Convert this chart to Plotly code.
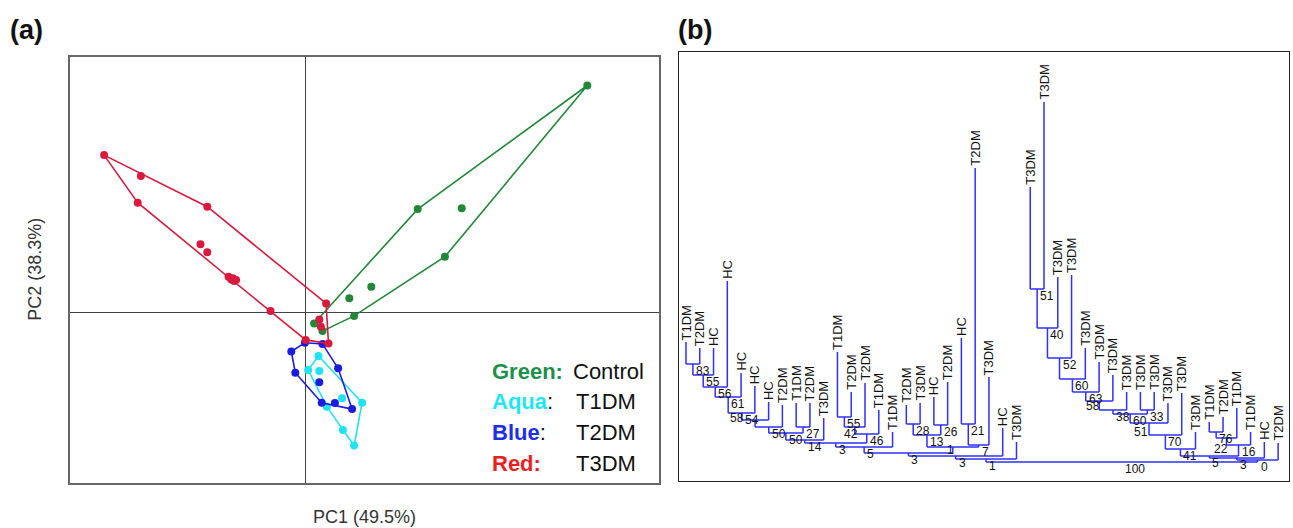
import plotly.graph_objects as go

# ---------------- Panel (a): PCA scores ----------------
GREEN_PC1 = [7.05, 2.81, 3.91, 3.49, 1.65, 1.10, 1.22, 0.22, 0.43]
GREEN_PC2 = [5.67, 2.58, 2.60, 1.39, 0.64, 0.35, -0.09, -0.28, -0.47]

AQUA_PC1 = [0.33, 0.07, 0.35, 0.92, 1.42, 0.54, 0.94, 1.22]
AQUA_PC2 = [-1.09, -1.44, -1.47, -2.15, -2.26, -2.36, -2.94, -3.33]

BLUE_PC1 = [-0.35, -0.01, 0.43, -0.25, 0.82, 0.35, 0.41, 0.74, 1.17]
BLUE_PC2 = [-0.98, -0.76, -0.79, -1.51, -1.40, -1.75, -2.26, -2.27, -2.42]

RED_PC1 = [-5.03, -4.11, -4.19, -2.45, -2.62, -2.45, -1.92, -1.81, -1.73, -1.85,
           -1.78, -0.87, 0.01, 0.58, 0.52, 0.35, 0.39]
RED_PC2 = [3.93, 3.41, 2.74, 2.64, 1.70, 1.50, 0.89, 0.85, 0.81, 0.82,
           0.78, 0.03, -0.69, -0.78, 0.22, -0.18, -0.36]

LEGEND_KEYS = ["Green:", "Aqua", "Blue", "Red:"]
LEGEND_NAMES = ["Control", "T1DM", "T2DM", "T3DM"]
PC1_TITLE = "PC1 (49.5%)"
PC2_TITLE = "PC2 (38.3%)"

# ---------------- Panel (b): dendrogram ----------------
LEAF_LABELS = ["T1DM", "T2DM", "HC", "HC", "HC", "HC", "HC", "T2DM", "T1DM", "T2DM",
               "T3DM", "T1DM", "T2DM", "T2DM", "T1DM", "T1DM", "T2DM", "T3DM", "HC", "T2DM",
               "HC", "T2DM", "T3DM", "HC", "T3DM", "T3DM", "T3DM", "T3DM", "T3DM", "T3DM",
               "T3DM", "T3DM", "T3DM", "T3DM", "T3DM", "T3DM", "T3DM", "T3DM", "T1DM", "T2DM",
               "T1DM", "T1DM", "HC", "T2DM"]
LEAF_HEIGHTS = [139, 133, 133, 200, 108, 95, 79, 76, 78, 78,
                63, 129, 89, 98, 71, 49, 76, 78, 84, 99,
                143, 313, 104, 53, 39, 294, 379, 204, 206, 133,
                119, 106, 89, 89, 89, 78, 88, 49, 59, 64,
                73, 49, 39, 38]

NODE_NAMES = ["a", "b", "c", "d", "e", "f", "g", "h", "i", "j",
              "n55", "n42", "n46", "p3", "q5",
              "n28", "n26", "n13", "n21", "n7", "r1", "u3", "s3", "t1",
              "R51", "R40", "R52", "R60", "R63", "R58", "R38", "R33", "R60b", "R51b", "R70", "R41",
              "R76", "R22", "R16", "R5", "R3", "R0", "root"]
NODE_LEFT = ["L1", "a", "b", "c", "d", "e", "f", "L9", "g", "i",
             "L12", "n55", "n42", "j", "p3",
             "L17", "L19", "n28", "L21", "n21", "n13", "q5", "u3", "s3",
             "L26", "R51", "R40", "R52", "R60", "R63", "R58", "L34", "R38", "R60b", "R51b", "R70",
             "L39", "R76", "R22", "R41", "R5", "R3", "t1"]
NODE_RIGHT = ["L2", "L3", "L4", "L5", "L6", "L7", "L8", "L10", "h", "L11",
              "L13", "L14", "L15", "n46", "L16",
              "L18", "L20", "n26", "L22", "L23", "n7", "r1", "L24", "L25",
              "L27", "L28", "L29", "L30", "L31", "L32", "L33", "L35", "R33", "L36", "L37", "L38",
              "L40", "L41", "L42", "R16", "L43", "L44", "R0"]
NODE_HEIGHT = [117, 106, 94, 84, 68, 61, 54, 54, 48, 41,
               64, 54, 47, 38, 34,
               57, 56, 46, 57, 36, 34, 28, 25, 22,
               192, 153, 123, 102, 89, 80, 71, 71, 67, 58, 46, 32,
               49, 43, 36, 25, 23, 21, 19]
NODE_SUPPORT = ["83", "55", "56", "61", "54", "58", "50", "27", "50", "14",
                "55", "42", "46", "3", "5",
                "28", "26", "13", "21", "7", "1", "3", "3", "1",
                "51", "40", "52", "60", "63", "58", "38", "33", "60", "51", "70", "41",
                "76", "22", "16", "5", "3", "0", "100"]

# label nudges (style only, pixels)
LABEL_NUDGE = {"f": (-28, 9), "n42": (-14, 0), "r1": (-9, 4), "R58": (-16, 2),
               "R51b": (-18, -2), "R22": (-15, -4)}

# ---------------- style ----------------
FONT = "Arial, 'Liberation Sans', Helvetica, sans-serif"
W, H = 1293, 528
COL = {"green": "#23873a", "aqua": "#1fe3f2", "blue": "#1c1ce0", "red": "#d81a3e"}
LEG_COL = ["#1f8f4e", "#1fe6f5", "#1f2fe6", "#e8231f"]
DEND_COL = "#2f2fff"


def hull(xs, ys):
    pts = sorted(set(zip(xs, ys)))
    if len(pts) < 3:
        return pts

    def cross(o, a, b):
        return (a[0] - o[0]) * (b[1] - o[1]) - (a[1] - o[1]) * (b[0] - o[0])
    lower, upper = [], []
    for p in pts:
        while len(lower) >= 2 and cross(lower[-2], lower[-1], p) <= 0:
            lower.pop()
        lower.append(p)
    for p in reversed(pts):
        while len(upper) >= 2 and cross(upper[-2], upper[-1], p) <= 0:
            upper.pop()
        upper.append(p)
    h = lower[:-1] + upper[:-1]
    return h + [h[0]]


fig = go.Figure()

groups = [(GREEN_PC1, GREEN_PC2, COL["green"]),
          (AQUA_PC1, AQUA_PC2, COL["aqua"]),
          (BLUE_PC1, BLUE_PC2, COL["blue"]),
          (RED_PC1, RED_PC2, COL["red"])]
for xs, ys, c in groups:
    hp = hull(xs, ys)
    fig.add_trace(go.Scatter(x=[p[0] for p in hp], y=[p[1] for p in hp], mode="lines",
                             line=dict(color=c, width=1.6), xaxis="x", yaxis="y",
                             hoverinfo="skip"))
    fig.add_trace(go.Scatter(x=xs, y=ys, mode="markers",
                             marker=dict(color=c, size=8, line=dict(width=0)),
                             xaxis="x", yaxis="y"))

# ---------------- dendrogram geometry ----------------
pos = {}
for k in range(len(LEAF_LABELS)):
    pos["L%d" % (k + 1)] = (k + 1, LEAF_HEIGHTS[k])
for nm, l, r, hgt in zip(NODE_NAMES, NODE_LEFT, NODE_RIGHT, NODE_HEIGHT):
    pos[nm] = ((pos[l][0] + pos[r][0]) / 2.0, hgt)

lx, ly = [], []
for nm, l, r in zip(NODE_NAMES, NODE_LEFT, NODE_RIGHT):
    x0, h0 = pos[nm]
    for ch in (l, r):
        cx, ch_h = pos[ch]
        lx += [cx, cx, None]
        ly += [ch_h, h0, None]
    lx += [pos[l][0], pos[r][0], None]
    ly += [h0, h0, None]
fig.add_trace(go.Scatter(x=lx, y=ly, mode="lines", line=dict(color=DEND_COL, width=1.5),
                         xaxis="x2", yaxis="y2", hoverinfo="skip"))

# ---------------- layout ----------------
ax0, ax1, ay0, ay1 = 69.6, 659.0, 56.7, 482.7
bx0, bx1, by0, by1 = 679.0, 1289.0, 52.0, 481.0
leaf_px0, leaf_step = 686.0, 13.77

x_scale = 40.0
xa_rng = [(ax0 - 305.3) / x_scale, (ax1 - 305.3) / x_scale]
ya_rng = [(312.3 - ay1) / x_scale, (312.3 - ay0) / x_scale]

xb_rng = [1 + (bx0 - leaf_px0) / leaf_step, 1 + (bx1 - leaf_px0) / leaf_step]
yb_rng = [0, by1 - by0]

fig.update_layout(
    width=W, height=H, margin=dict(l=0, r=0, t=0, b=0),
    paper_bgcolor="white", plot_bgcolor="white", showlegend=False,
    font=dict(family=FONT, color="#111"),
    xaxis=dict(domain=[ax0 / W, ax1 / W], range=xa_rng, showgrid=False, showticklabels=False,
               ticks="", zeroline=True, zerolinecolor="#444", zerolinewidth=1.2,
               showline=True, mirror=True, linecolor="#666", linewidth=1.6),
    yaxis=dict(domain=[1 - ay1 / H, 1 - ay0 / H], range=ya_rng, showgrid=False,
               showticklabels=False, ticks="", zeroline=True, zerolinecolor="#444",
               zerolinewidth=1.2, showline=True, mirror=True, linecolor="#666", linewidth=1.6),
    xaxis2=dict(domain=[bx0 / W, bx1 / W], range=xb_rng, showgrid=False, showticklabels=False,
                ticks="", zeroline=False, showline=True, mirror=True, linecolor="#222",
                linewidth=1.2, anchor="y2"),
    yaxis2=dict(domain=[1 - by1 / H, 1 - by0 / H], range=yb_rng, showgrid=False,
                showticklabels=False, ticks="", zeroline=False, showline=True, mirror=True,
                linecolor="#222", linewidth=1.2, anchor="x2"),
)

ann = []
ann.append(dict(text="<b>(a)</b>", x=8 / W, y=1 - 30 / H, xref="paper", yref="paper",
                xanchor="left", yanchor="middle", showarrow=False, font=dict(size=27, color="#111")))
ann.append(dict(text="<b>(b)</b>", x=676 / W, y=1 - 30 / H, xref="paper", yref="paper",
                xanchor="left", yanchor="middle", showarrow=False, font=dict(size=27, color="#111")))
ann.append(dict(text=PC1_TITLE, x=(ax0 + ax1) / 2 / W, y=1 - 517 / H, xref="paper", yref="paper",
                xanchor="center", yanchor="middle", showarrow=False,
                font=dict(size=18, color="#333")))
ann.append(dict(text=PC2_TITLE, x=35 / W, y=1 - (ay0 + ay1) / 2 / H, xref="paper", yref="paper",
                xanchor="center", yanchor="middle", showarrow=False, textangle=-90,
                font=dict(size=18, color="#333")))
rows = [371, 401, 432, 463]
colon_black = [False, True, True, False]
for k in range(4):
    key = "<b><span style='color:%s'>%s</span></b>" % (LEG_COL[k], LEGEND_KEYS[k])
    if colon_black[k]:
        key += "<span style='color:#111'>:</span>"
    ann.append(dict(text=key, x=490 / W, y=1 - rows[k] / H, xref="paper", yref="paper",
                    xanchor="left", yanchor="middle", showarrow=False,
                    font=dict(size=22, color=LEG_COL[k])))
    ann.append(dict(text=LEGEND_NAMES[k], x=(571 if k == 0 else 574) / W, y=1 - rows[k] / H,
                    xref="paper", yref="paper", xanchor="left", yanchor="middle",
                    showarrow=False, font=dict(size=22, color="#111")))

for k, lab in enumerate(LEAF_LABELS):
    ann.append(dict(text=lab, x=k + 1, y=LEAF_HEIGHTS[k], xref="x2", yref="y2",
                    textangle=-90, xanchor="center", yanchor="bottom", showarrow=False,
                    yshift=0, font=dict(size=13, color="#111")))
for nm, sup in zip(NODE_NAMES, NODE_SUPPORT):
    dx, dy = LABEL_NUDGE.get(nm, (0, 0))
    x0, h0 = pos[nm]
    ann.append(dict(text=sup, x=x0, y=h0, xref="x2", yref="y2", xanchor="left",
                    yanchor="top", showarrow=False, xshift=1 + dx, yshift=2 + dy,
                    font=dict(size=12, color="#111")))

fig.update_layout(annotations=ann)
fig.write_html("out.html")
